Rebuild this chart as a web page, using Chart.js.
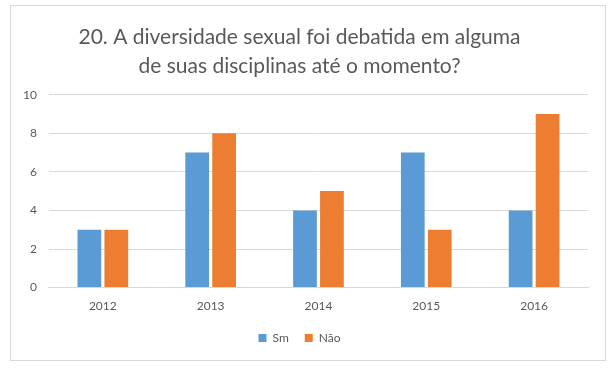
<!DOCTYPE html>
<html>
<head>
<meta charset="utf-8">
<script src="https://cdn.jsdelivr.net/npm/chart.js@4/dist/chart.umd.min.js"></script>
<style>
  html, body { margin: 0; padding: 0; background: #fff; }
  .frame { position: absolute; left: 10px; top: 5px; width: 594px; height: 354px; border: 1px solid #d9d9d9; }
  canvas { display: block; }
</style>
</head>
<body>
<div class="frame"><canvas id="grafico" width="594" height="354"></canvas></div>
<script>
const anos = ['2012', '2013', '2014', '2015', '2016'];
const sim = [3, 7, 4, 7, 4];
const nao = [3, 8, 5, 3, 9];
const titulo = ['20. A diversidade sexual foi debatida em alguma', 'de suas disciplinas até o momento?'];

const ctx = document.getElementById('grafico').getContext('2d');
new Chart(ctx, {
  type: 'bar',
  data: {
    labels: anos,
    datasets: [
      { label: 'Sm', data: sim, backgroundColor: '#5b9bd5', categoryPercentage: 0.5, barPercentage: 0.88 },
      { label: 'Não', data: nao, backgroundColor: '#ed7d31', categoryPercentage: 0.5, barPercentage: 0.88 },
    ],
  },
  options: {
    responsive: false,
    animation: false,
    layout: { padding: { left: 0, right: 17, top: 8, bottom: 6 } },
    scales: {
      x: {
        grid: { display: false },
        border: { color: '#d9d9d9' },
        ticks: { color: '#595959', font: { family: 'Lato', size: 12 } },
      },
      y: {
        min: 0,
        max: 10,
        ticks: { stepSize: 2, color: '#595959', font: { family: 'Lato', size: 12 }, padding: 12 },
        grid: { color: '#d9d9d9', drawTicks: false },
        border: { display: false },
      },
    },
    plugins: {
      title: {
        display: true,
        text: titulo,
        color: '#595959',
        font: { family: 'Lato', size: 21, weight: 'normal', lineHeight: 1.42 },
        padding: { top: 8, bottom: 13 },
      },
      legend: {
        display: true,
        position: 'bottom',
        labels: { boxWidth: 8, boxHeight: 8, color: '#595959', font: { family: 'Lato', size: 12 }, padding: 16 },
      },
      tooltip: { enabled: false },
    },
  },
});
</script>
</body>
</html>
